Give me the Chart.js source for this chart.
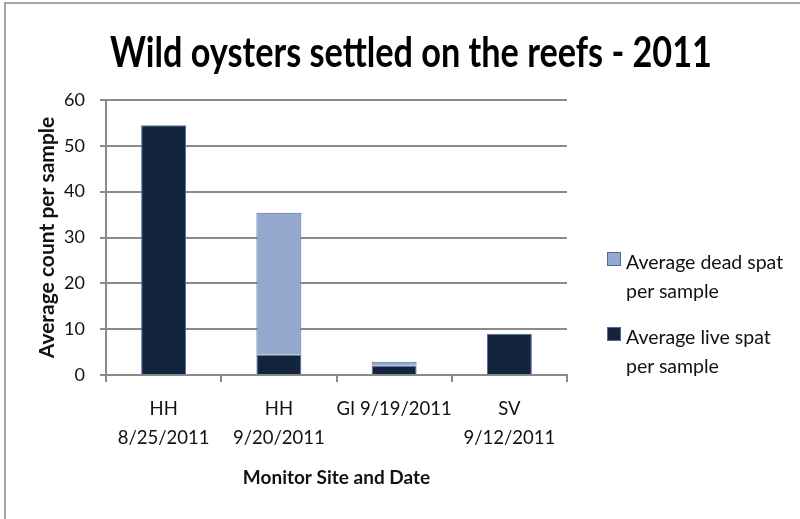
<!DOCTYPE html>
<html>
<head>
<meta charset="utf-8">
<script src="https://cdn.jsdelivr.net/npm/chart.js@4/dist/chart.umd.min.js"></script>
<style>
  html, body { margin: 0; padding: 0; background: #fff; }
  #wrap { position: relative; width: 800px; height: 519px; overflow: hidden; }
  #frame { position: absolute; left: 4px; top: 2px; width: 820px; height: 540px;
           border-left: 2px solid #a6a6a6; border-top: 2px solid #a6a6a6; pointer-events: none; }
  canvas { position: absolute; left: 0; top: 0; }
  #title { position: absolute; left: 0; top: 30px; width: 822px; text-align: center;
           font-family: Lato, "Open Sans", sans-serif; font-weight: bold; font-size: 42px; line-height: 42px;
           color: #000; transform: scaleX(0.815); transform-origin: 411px 0; white-space: nowrap; }
  #legend { position: absolute; left: 607px; top: 247px; font-family: Lato, "Open Sans", sans-serif;
            font-size: 19.5px; color: #111; line-height: 29px; white-space: nowrap; }
  .item { display: flex; align-items: flex-start; margin-bottom: 17px; }
  .sw { width: 12px; height: 12px; margin-top: 5px; margin-right: 5px; border: 1px solid #4a6a9c; flex: none; }
</style>
</head>
<body>
<div id="wrap">
  <canvas id="c" width="800" height="519"></canvas>
  <div id="frame"></div>
  <div id="title"></div>
  <div id="legend"></div>
</div>
<script>
const chartTitle = "Wild oysters settled on the reefs - 2011";
const categories = [["HH", "8/25/2011"], ["HH", "9/20/2011"], "GI 9/19/2011", ["SV", "9/12/2011"]];
const liveSpat = [54.5, 4.4, 2.0, 9.0];
const deadSpat = [0, 31.0, 0.9, 0];
const yTicks = [0, 10, 20, 30, 40, 50, 60];
const seriesNames = ["Average live spat per sample", "Average dead spat per sample"];
const legendLines = { dead: ["Average dead spat", "per sample"], live: ["Average live spat", "per sample"] };

const colLive = "#13243f", colDead = "#95a9cf", colBorder = "#4d6d9f";
const FONT = "Lato, 'Open Sans', sans-serif";

document.getElementById("title").textContent = chartTitle;

new Chart(document.getElementById("c"), {
  type: "bar",
  data: {
    labels: categories,
    datasets: [
      { label: seriesNames[0], data: liveSpat, backgroundColor: colLive, borderColor: colBorder, borderWidth: 1,
        barPercentage: 0.39, categoryPercentage: 1.0 },
      { label: seriesNames[1], data: deadSpat, backgroundColor: colDead, borderColor: colBorder, borderWidth: 1,
        barPercentage: 0.39, categoryPercentage: 1.0 }
    ]
  },
  options: {
    responsive: false,
    animation: false,
    layout: { padding: { left: 0, right: 233, top: 100, bottom: 0 } },
    plugins: {
      legend: { display: false },
      tooltip: { enabled: false },
      title: { display: false }
    },
    scales: {
      x: {
        stacked: true,
        afterFit: (scale) => { scale.height = 144; },
        grid: { drawOnChartArea: false, color: "#8a8a8a", lineWidth: 2, tickLength: 7, offset: true },
        border: { color: "#8a8a8a", width: 2 },
        ticks: { color: "#111", font: { family: FONT, size: 18.5, lineHeight: 1.55 }, maxRotation: 0,
                 autoSkip: false, padding: 13 },
        title: { display: true, text: "Monitor Site and Date", color: "#111",
                 font: { family: FONT, size: 19, weight: "bold" }, padding: { top: 0, bottom: 30 } }
      },
      y: {
        stacked: true,
        min: 0, max: 60,
        afterFit: (scale) => { scale.width = 106; },
        afterBuildTicks: (axis) => { axis.ticks = yTicks.map(v => ({ value: v })); },
        grid: { color: "#8a8a8a", lineWidth: 2, tickLength: 6 },
        border: { color: "#8a8a8a", width: 2 },
        ticks: { color: "#111", font: { family: FONT, size: 18 }, padding: 15 },
        title: { display: true, text: "Average count per sample", color: "#111",
                 font: { family: FONT, size: 21, weight: "bold" }, padding: { top: 35, bottom: 0 } }
      }
    }
  }
});

const lg = document.getElementById("legend");
[[colDead, legendLines.dead], [colLive, legendLines.live]].forEach(([c, lines]) => {
  const it = document.createElement("div"); it.className = "item";
  const sw = document.createElement("div"); sw.className = "sw"; sw.style.background = c;
  const tx = document.createElement("div"); tx.innerHTML = lines.join("<br>");
  it.appendChild(sw); it.appendChild(tx); lg.appendChild(it);
});
</script>
</body>
</html>
